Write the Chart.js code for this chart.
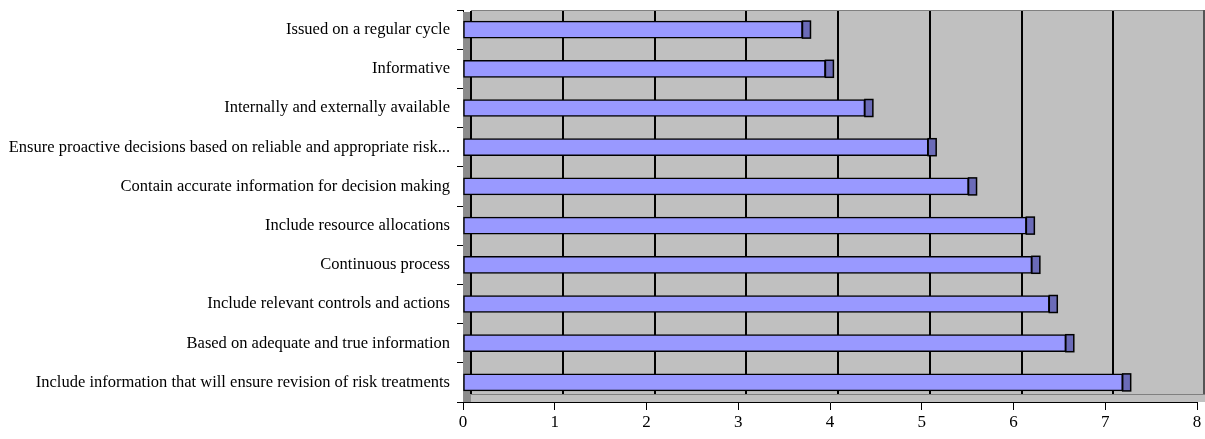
<!DOCTYPE html>
<html>
<head>
<meta charset="utf-8">
<script src="https://cdn.jsdelivr.net/npm/chart.js@4"></script>
<style>
  html, body { margin: 0; padding: 0; background: #fff; }
  #wrap { width: 1205px; height: 439px; }
</style>
</head>
<body>
<div id="wrap"><canvas id="chart"></canvas></div>
<script>
const categories = [
    'Issued on a regular cycle',
    'Informative',
    'Internally and externally available',
    'Ensure proactive decisions based on reliable and appropriate risk...',
    'Contain accurate information for decision making',
    'Include resource allocations',
    'Continuous process',
    'Include relevant controls and actions',
    'Based on adequate and true information',
    'Include information that will ensure revision of risk treatments'
];
const scores = [3.70, 3.95, 4.38, 5.07, 5.51, 6.14, 6.20, 6.39, 6.57, 7.19];
const xTicks = [0, 1, 2, 3, 4, 5, 6, 7, 8];

const depth = 8; // fake 3d depth

// gray back wall, side wall, floor and gridlines behind the bars
const wallPlugin = {
    id: 'wall',
    beforeDatasetsDraw(chart) {
        const ctx = chart.ctx;
        const a = chart.chartArea;
        const xs = chart.scales.x;
        ctx.save();
        ctx.fillStyle = '#c0c0c0';
        ctx.fillRect(a.left + depth, a.top, a.right - a.left, a.bottom - a.top);
        ctx.strokeStyle = '#808080';
        ctx.lineWidth = 1;
        ctx.strokeRect(a.left + depth + 0.5, a.top + 0.5, a.right - a.left - 1, a.bottom - a.top - depth);
        // left side wall
        ctx.fillStyle = '#8c8c8c';
        ctx.fillRect(a.left, a.top + 2, depth, a.bottom - a.top - 2);
        // gridlines on the back wall
        ctx.strokeStyle = '#000';
        ctx.lineWidth = 2;
        xTicks.forEach(v => {
            if (v === 8) return;
            const px = Math.round(xs.getPixelForValue(v)) + depth;
            ctx.beginPath();
            ctx.moveTo(px, a.top + 1);
            ctx.lineTo(px, a.bottom - depth);
            ctx.stroke();
        });
        // right edge
        ctx.strokeStyle = '#555';
        ctx.beginPath();
        ctx.moveTo(a.right + depth - 1, a.top);
        ctx.lineTo(a.right + depth - 1, a.bottom - depth);
        ctx.stroke();
        ctx.restore();
    },
    afterDatasetsDraw(chart) {
        const ctx = chart.ctx;
        const meta = chart.getDatasetMeta(0);
        ctx.save();
        meta.data.forEach(bar => {
            const h = bar.height;
            ctx.fillStyle = '#6b6bb8';
            ctx.fillRect(bar.x, bar.y - h / 2, depth, h);
            ctx.strokeStyle = '#000';
            ctx.lineWidth = 1.5;
            ctx.strokeRect(bar.x, bar.y - h / 2, depth, h);
        });
        ctx.restore();
    }
};

new Chart(document.getElementById('chart'), {
    type: 'bar',
    data: {
        labels: categories,
        datasets: [{
            data: scores,
            backgroundColor: '#9999ff',
            borderColor: '#000',
            borderWidth: 1.5,
            borderSkipped: false,
            barThickness: 17
        }]
    },
    options: {
        indexAxis: 'y',
        responsive: true,
        maintainAspectRatio: false,
        animation: false,
        layout: { padding: { top: 10, right: 8, left: 0, bottom: 0 } },
        plugins: {
            legend: { display: false },
            tooltip: { enabled: false }
        },
        scales: {
            x: {
                min: 0,
                max: 8,
                afterBuildTicks: s => { s.ticks = xTicks.map(v => ({ value: v })); },
                grid: { drawOnChartArea: false, color: '#000', tickLength: 8, lineWidth: 1 },
                border: { color: '#000', width: 1 },
                ticks: {
                    color: '#000',
                    padding: 2,
                    font: { family: 'Liberation Serif', size: 17 }
                },
                afterFit: s => { s.height = 37; s.paddingLeft = 0; s.paddingRight = 0; }
            },
            y: {
                grid: { drawOnChartArea: false, color: '#000', tickLength: 6, lineWidth: 1 },
                border: { color: '#000', width: 1 },
                ticks: {
                    color: '#000',
                    padding: 7,
                    autoSkip: false,
                    font: { family: 'Liberation Serif', size: 16.5 }
                },
                afterFit: s => { s.width = 463; s.paddingTop = 0; s.paddingBottom = 0; }
            }
        }
    },
    plugins: [wallPlugin]
});
</script>
</body>
</html>
